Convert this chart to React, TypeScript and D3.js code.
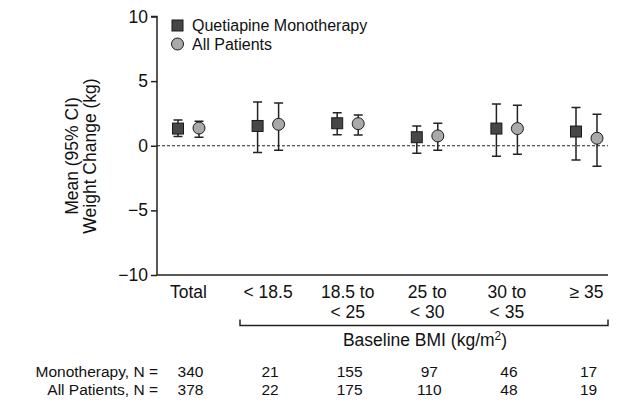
import React, { useRef, useEffect } from 'react'
import * as d3 from 'd3'

const categories = ['Total', '<18.5', '18.5-25', '25-30', '30-35', '>=35']
const tickLines = [['Total'], ['< 18.5'], ['18.5 to', '< 25'], ['25 to', '< 30'], ['30 to', '< 35'], ['\u2265 35']]

const monoMean = [1.33, 1.53, 1.74, 0.66, 1.33, 1.1]
const monoLow = [0.71, -0.53, 0.86, -0.58, -0.81, -1.1]
const monoHigh = [2.0, 3.38, 2.56, 1.53, 3.23, 2.95]

const allMean = [1.37, 1.66, 1.71, 0.76, 1.33, 0.58]
const allLow = [0.66, -0.35, 0.84, -0.35, -0.66, -1.58]
const allHigh = [1.9, 3.3, 2.38, 1.74, 3.13, 2.43]

const monoN = [340, 21, 155, 97, 46, 17]
const allN = [378, 22, 175, 110, 48, 19]

const yTicks = [-10, -5, 0, 5, 10]

const FONT = '"Liberation Sans", Arial, Helvetica, sans-serif'

const App = () => {
    const chartRef = useRef<SVGSVGElement | null>(null)

    useEffect(() => {
        if (!chartRef.current) return
        const svg = d3.select(chartRef.current)
        svg.selectAll('*').remove()

        const x = d3.scalePoint<string>().domain(categories).range([188.5, 586.5])
        const y = d3.scaleLinear().domain([-10, 10]).range([275, 16.5])
        const axisX = 157
        const off = 10.5

        // y axis
        const yAxis = svg.append('g')
            .attr('transform', `translate(${axisX},0)`)
            .call(d3.axisLeft(y).tickValues(yTicks).tickSize(6).tickPadding(3)
                .tickFormat(d => (d as number) < 0 ? `\u2212${Math.abs(d as number)}` : `${d}`))
        yAxis.select('.domain').attr('d', `M-6,${y(10)}H0V${y(-10)}`).attr('stroke', '#222').attr('stroke-width', 1.5)
        yAxis.selectAll('line').attr('stroke', '#222').attr('stroke-width', 1.5)
        yAxis.selectAll('text').attr('font-family', FONT).attr('font-size', 17.5).attr('fill', '#111')

        // x axis line
        svg.append('line')
            .attr('x1', axisX).attr('x2', 608)
            .attr('y1', y(-10)).attr('y2', y(-10))
            .attr('stroke', '#222').attr('stroke-width', 1.5)

        // zero line
        svg.append('line')
            .attr('x1', axisX).attr('x2', 608)
            .attr('y1', y(0)).attr('y2', y(0))
            .attr('stroke', '#222').attr('stroke-width', 1)
            .attr('stroke-dasharray', '3,2')

        // y title
        const yt = svg.append('text')
            .attr('transform', `translate(78,156) rotate(-90)`)
            .attr('text-anchor', 'middle')
            .attr('font-family', FONT).attr('font-size', 17.5).attr('fill', '#111')
        yt.append('tspan').attr('x', 0).attr('y', 0).text('Mean (95% CI)')
        yt.append('tspan').attr('x', 0).attr('y', 18).text('Weight Change (kg)')

        // tick labels
        tickLines.forEach((lines, i) => {
            const t = svg.append('text')
                .attr('text-anchor', 'middle')
                .attr('font-family', FONT).attr('font-size', 17.5).attr('fill', '#111')
            lines.forEach((l, j) => {
                t.append('tspan').attr('x', x(categories[i])!).attr('y', 298 + j * 20).text(l)
            })
        })

        // bracket
        const bx1 = 240, bx2 = 608, by = 325.5
        svg.append('path')
            .attr('d', `M${bx1},${by - 6}V${by}H${bx2}V${by - 6}`)
            .attr('fill', 'none').attr('stroke', '#222').attr('stroke-width', 1.5)
        const bt = svg.append('text')
            .attr('x', 425).attr('y', 346)
            .attr('text-anchor', 'middle')
            .attr('font-family', FONT).attr('font-size', 17.5).attr('fill', '#111')
        bt.append('tspan').text('Baseline BMI (kg/m')
        bt.append('tspan').attr('font-size', 12).attr('dy', -6).text('2')
        bt.append('tspan').attr('dy', 6).text(')')

        // N rows
        const rows: [string, number[], number][] = [
            ['Monotherapy, N =', monoN, 377],
            ['All Patients, N =', allN, 395],
        ]
        rows.forEach(([label, vals, yy]) => {
            svg.append('text')
                .attr('x', 158).attr('y', yy)
                .attr('text-anchor', 'end')
                .attr('font-family', FONT).attr('font-size', 15.5).attr('fill', '#111')
                .text(label)
            vals.forEach((v, i) => {
                svg.append('text')
                    .attr('x', x(categories[i])! + 2).attr('y', yy)
                    .attr('text-anchor', 'middle')
                    .attr('font-family', FONT).attr('font-size', 15.5).attr('fill', '#111')
                    .text(v)
            })
        })

        // error bars + markers
        const series = [
            { mean: monoMean, low: monoLow, high: monoHigh, dx: -off, kind: 'square' },
            { mean: allMean, low: allLow, high: allHigh, dx: off, kind: 'circle' },
        ]
        const cap = 4.5
        series.forEach(s => {
            const g = svg.append('g')
            categories.forEach((c, i) => {
                const cx = x(c)! + s.dx
                g.append('path')
                    .attr('d', `M${cx},${y(s.low[i])}V${y(s.high[i])}M${cx - cap},${y(s.low[i])}H${cx + cap}M${cx - cap},${y(s.high[i])}H${cx + cap}`)
                    .attr('stroke', '#222').attr('stroke-width', 1.5).attr('fill', 'none')
                if (s.kind === 'square') {
                    g.append('rect')
                        .attr('x', cx - 5.5).attr('y', y(s.mean[i]) - 5.5)
                        .attr('width', 11).attr('height', 11)
                        .attr('fill', '#474747').attr('stroke', '#1a1a1a').attr('stroke-width', 1)
                } else {
                    g.append('circle')
                        .attr('cx', cx).attr('cy', y(s.mean[i])).attr('r', 6)
                        .attr('fill', '#a9a9a9').attr('stroke', '#1a1a1a').attr('stroke-width', 1)
                }
            })
        })

        // legend
        const lg = svg.append('g')
        lg.append('rect').attr('x', 172).attr('y', 20).attr('width', 11).attr('height', 11)
            .attr('fill', '#474747').attr('stroke', '#1a1a1a')
        lg.append('circle').attr('cx', 177.5).attr('cy', 44).attr('r', 6)
            .attr('fill', '#a9a9a9').attr('stroke', '#1a1a1a')
        lg.append('text').attr('x', 192).attr('y', 31)
            .attr('font-family', FONT).attr('font-size', 16).attr('fill', '#111')
            .text('Quetiapine Monotherapy')
        lg.append('text').attr('x', 192).attr('y', 50)
            .attr('font-family', FONT).attr('font-size', 16).attr('fill', '#111')
            .text('All Patients')
    }, [])

    return (
        <svg ref={chartRef} width={625} height={419}
            style={{ position: 'absolute', left: 0, top: 0, background: '#fff' }} />
    )
}

export default App
